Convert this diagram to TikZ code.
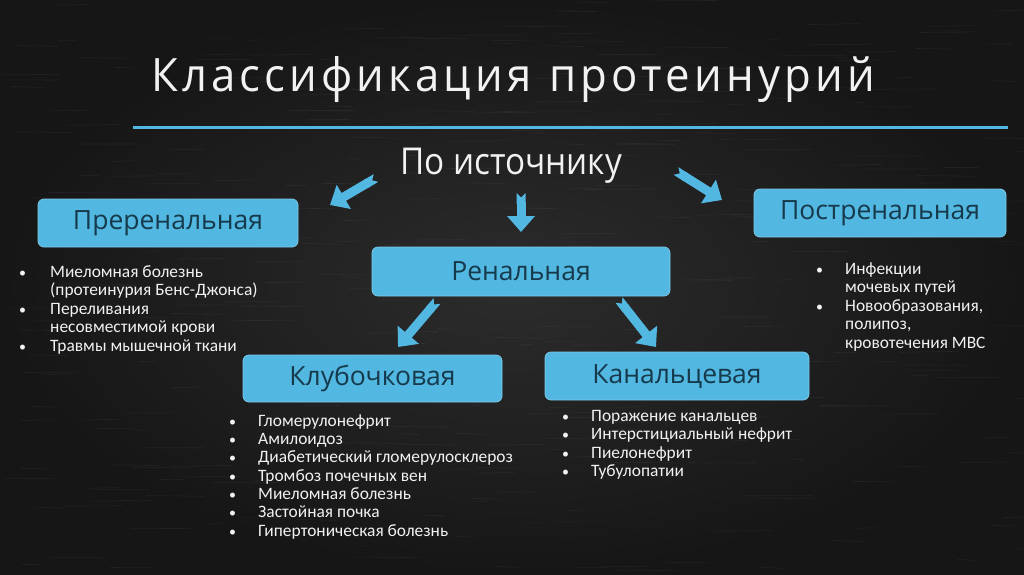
\documentclass[tikz,border=0pt]{standalone}
\usepackage{fontspec}
\setmainfont{Carlito}
\newfontfamily\titlefont[FakeStretch=0.95,LetterSpace=9]{Open Sans}
\newfontfamily\subfont[FakeStretch=0.9]{Open Sans}
\newfontfamily\boxfont{Open Sans}
\usetikzlibrary{arrows.meta}
\definecolor{bluebox}{HTML}{52B7E1}
\definecolor{boxtext}{HTML}{163A4C}
\definecolor{bginner}{HTML}{2C2C2C}
\definecolor{bgouter}{HTML}{161616}
\definecolor{chalk}{HTML}{F2F2F2}
\tikzset{
  catbox/.style={fill=bluebox, draw=bluebox!75!white, line width=0.8pt, rounded corners=6pt,
    text=boxtext, font=\boxfont\fontsize{26.5}{30}\selectfont, inner sep=0pt},
  listtext/.style={text=chalk, font=\fontsize{17.4}{18.6}\selectfont, inner sep=0pt, anchor=base west},
  bullets/.style={text=chalk, font=\fontsize{14}{18.6}\selectfont, inner sep=0pt, anchor=base west},
  barrow/.style={draw=bluebox, line width=9pt, {Triangle Cap[reversed]}-{Triangle[width=27pt,length=16pt]}},
  streak/.style={draw=white, opacity=0.05, line width=0.6pt}
}
\newcommand{\blist}[1]{\begin{tabular}[t]{@{}l@{}}#1\end{tabular}}
\begin{document}
\begin{tikzpicture}[x=1pt,y=-1pt]
\shade[inner color=bginner, outer color=bgouter] (0,0) rectangle (1024,574);
\useasboundingbox (0,0) rectangle (1024,574);
% chalk texture
\pgfmathsetseed{7}
\foreach \i in {1,...,350}{
  \pgfmathsetmacro{\sx}{rnd*1024}
  \pgfmathsetmacro{\sy}{rnd*574}
  \pgfmathsetmacro{\sl}{10+rnd*60}
  \draw[streak] (\sx,\sy) -- ++(\sl,rnd*2-1);
}

% title
\node[text=chalk, font=\titlefont\fontsize{46}{52}\selectfont, anchor=base, inner sep=0pt] (title) at (513,91) {Классификация\hspace{18pt}протеинурий};
\coordinate (l1) at (133,127);
\coordinate (l2) at (1008,127);
\draw[bluebox, line width=3pt] (l1) -- (l2);

\node[text=chalk, font=\subfont\fontsize{37}{42}\selectfont, anchor=base, inner sep=0pt] (src) at (511,174) {По источнику};

% boxes
\node[catbox, minimum width=260pt, minimum height=48pt] (pre) at (168,223) {Преренальная};
\node[catbox, minimum width=252pt, minimum height=48pt] (post) at (880,213) {Постренальная};
\node[catbox, minimum width=298pt, minimum height=49pt] (ren) at (521,271.5) {Ренальная};
\node[catbox, minimum width=259pt, minimum height=47pt] (klub) at (372.5,378.5) {Клубочковая};
\node[catbox, minimum width=264pt, minimum height=48pt] (kan) at (677,376) {Канальцевая};

% arrows
\coordinate (a1s) at (376,178); \coordinate (a1e) at (330,205);
\coordinate (a2s) at (521,193); \coordinate (a2e) at (521,232);
\coordinate (a3s) at (676,171); \coordinate (a3e) at (722,200);
\coordinate (a4s) at (437,301); \coordinate (a4e) at (398,347);
\coordinate (a5s) at (619,300); \coordinate (a5e) at (656,347);
\draw[barrow] (a1s) -- (a1e);
\draw[barrow] (a2s) -- (a2e);
\draw[barrow] (a3s) -- (a3e);
\draw[barrow] (a4s) -- (a4e);
\draw[barrow] (a5s) -- (a5e);

% lists
\node[bullets] (preb) at (19,277) {\blist{•\\\\•\\\\•}};
\node[listtext] (prel) at (50,277) {\blist{Миеломная болезнь\\(протеинурия Бенс-Джонса)\\Переливания\\несовместимой крови\\Травмы мышечной ткани}};

\node[bullets] (postb) at (816,274) {\blist{•\\\\•}};
\node[listtext] (postl) at (845,274) {\blist{Инфекции\\мочевых путей\\Новообразования,\\полипоз,\\кровотечения МВС}};

\node[bullets, font=\fontsize{14}{18.35}\selectfont] (klubb) at (229,426) {\blist{•\\•\\•\\•\\•\\•\\•}};
\node[listtext, font=\fontsize{17.4}{18.35}\selectfont] (klubl) at (258,426) {\blist{Гломерулонефрит\\Амилоидоз\\Диабетический гломерулосклероз\\Тромбоз почечных вен\\Миеломная болезнь\\Застойная почка\\Гипертоническая болезнь}};

\node[bullets] (kanb) at (562,421) {\blist{•\\•\\•\\•}};
\node[listtext] (kanl) at (591,421) {\blist{Поражение канальцев\\Интерстициальный нефрит\\Пиелонефрит\\Тубулопатии}};
\end{tikzpicture}
\end{document}
